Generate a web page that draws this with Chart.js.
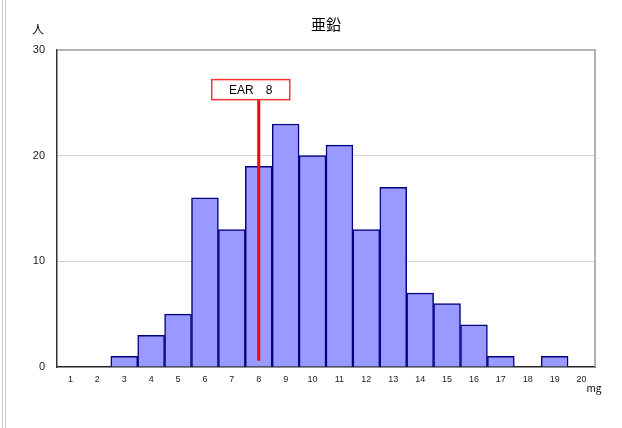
<!DOCTYPE html>
<html>
<head>
<meta charset="utf-8">
<script src="https://cdn.jsdelivr.net/npm/chart.js@4/dist/chart.umd.min.js"></script>
<style>
  html, body { margin: 0; padding: 0; background: #fff; }
  .wrap { position: relative; width: 622px; height: 428px; }
  .edge { position: absolute; left: 2px; top: 0; width: 2px; height: 428px;
          border-left: 1px solid #c8c8c8; border-right: 1px solid #c8c8c8; }
  canvas { position: absolute; left: 0; top: 0; }
</style>
</head>
<body>
<div class="wrap">
  <div class="edge"></div>
  <canvas id="chart" width="622" height="428"></canvas>
</div>
<script>
  const TITLE = "亜鉛";
  const Y_UNIT = "人";
  const X_UNIT = "mg";
  const categories = ["1","2","3","4","5","6","7","8","9","10","11","12","13","14","15","16","17","18","19","20"];
  const counts = [0, 0, 1, 3, 5, 16, 13, 19, 23, 20, 21, 13, 17, 7, 6, 4, 1, 0, 1, 0];
  const yTicks = [0, 10, 20, 30];
  const EAR_VALUE = "8";
  const EAR_LABEL = "EAR\u30008";
  const EAR_LINE_FROM = 0.6;
  const EAR_LINE_TO = 25.3;
  const EAR_BOX_TOP = 27.2;

  const FONT = "'Liberation Sans', Arial, sans-serif";

  const overlay = {
    id: "overlay",
    afterDatasetsDraw(chart) {
      const { ctx, chartArea: a, scales } = chart;
      const x = scales.x, y = scales.y;
      ctx.save();
      // top & right frame
      ctx.strokeStyle = "#9a9a9a";
      ctx.lineWidth = 1.5;
      ctx.beginPath();
      ctx.moveTo(a.left, a.top);
      ctx.lineTo(a.right, a.top);
      ctx.lineTo(a.right, a.bottom);
      ctx.stroke();

      // EAR line
      const ex = x.getPixelForValue(categories.indexOf(EAR_VALUE));
      ctx.strokeStyle = "#ff0000";
      ctx.lineWidth = 3;
      ctx.beginPath();
      ctx.moveTo(ex, y.getPixelForValue(EAR_LINE_FROM));
      ctx.lineTo(ex, y.getPixelForValue(EAR_LINE_TO));
      ctx.stroke();

      // EAR label box
      const bTop = y.getPixelForValue(EAR_BOX_TOP);
      const bBot = y.getPixelForValue(EAR_LINE_TO);
      const bw = 78;
      const bx = ex - 47;
      ctx.fillStyle = "#fff";
      ctx.fillRect(bx, bTop, bw, bBot - bTop);
      ctx.strokeStyle = "#ff3333";
      ctx.lineWidth = 1.5;
      ctx.strokeRect(bx, bTop, bw, bBot - bTop);
      ctx.fillStyle = "#000";
      ctx.font = "12px " + FONT;
      ctx.textAlign = "center";
      ctx.textBaseline = "middle";
      ctx.fillText(EAR_LABEL, bx + bw / 2, (bTop + bBot) / 2 + 1);

      // title and unit labels
      ctx.font = "15px 'Noto Sans CJK JP', sans-serif";
      ctx.fillText(TITLE, (a.left + a.right) / 2, 24);
      ctx.font = "12px 'Noto Sans CJK JP', sans-serif";
      ctx.fillText(Y_UNIT, 38, 29);
      ctx.font = "10px 'Noto Sans CJK JP', sans-serif";
      ctx.fillText(X_UNIT, a.right - 1, a.bottom + 21);
      ctx.restore();
    }
  };

  new Chart(document.getElementById("chart"), {
    type: "bar",
    data: {
      labels: categories,
      datasets: [{
        data: counts,
        backgroundColor: "#9999ff",
        borderColor: "#000080",
        borderWidth: 1.5,
        barPercentage: 1,
        categoryPercentage: 1,
      }],
    },
    options: {
      responsive: false,
      animation: false,
      devicePixelRatio: 1,
      layout: { padding: { left: 0, top: 50, right: 27, bottom: 0 } },
      plugins: { legend: { display: false }, tooltip: { enabled: false } },
      scales: {
        x: {
          grid: { display: false, drawTicks: false },
          border: { color: "#222", width: 1.5 },
          ticks: { color: "#222", font: { size: 9, family: FONT }, padding: 7, maxRotation: 0, autoSkip: false },
          afterFit(s) { s.height = 61; },
        },
        y: {
          min: 0,
          max: 30,
          afterBuildTicks(s) { s.ticks = yTicks.map((v) => ({ value: v })); },
          grid: {
            drawTicks: false,
            color: (c) => (c.tick && (c.tick.value === 10 || c.tick.value === 20) ? "#d4d4d4" : "rgba(0,0,0,0)"),
          },
          border: { color: "#333", width: 1.5 },
          ticks: { color: "#222", font: { size: 11, family: FONT }, padding: 12 },
          afterFit(s) { s.width = 57; },
        },
      },
    },
    plugins: [overlay],
  });
</script>
</body>
</html>
